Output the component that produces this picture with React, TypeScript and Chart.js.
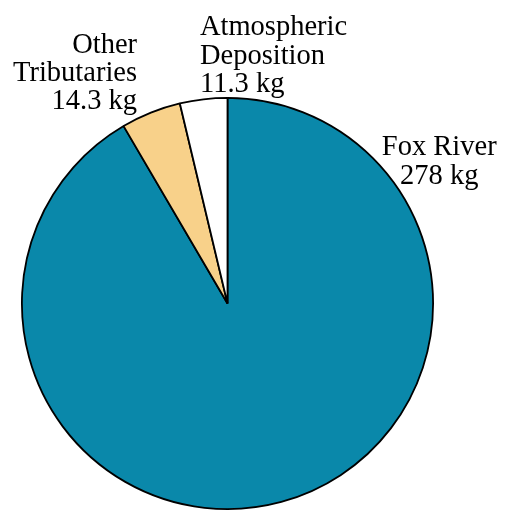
import React, { useEffect, useRef } from "react";
import { Chart, registerables } from "chart.js";

Chart.register(...registerables);

const categories = ["Fox River", "Other Tributaries", "Atmospheric Deposition"];
const values = [278, 14.3, 11.3];
const labelLines = [
  ["Fox River", "278 kg"],
  ["Other", "Tributaries", "14.3 kg"],
  ["Atmospheric", "Deposition", "11.3 kg"],
];
const colors = ["#0A88AA", "#F8D18A", "#FFFFFF"];
// label anchor relative to pie center, in units of radius; alignment
const labelAnchors: { kx: number; ky: number; align: CanvasTextAlign }[] = [
  { kx: 1.03, ky: -0.72, align: "center" },
  { kx: -0.44, ky: -1.219, align: "right" },
  { kx: -0.134, ky: -1.304, align: "left" },
];

const labelPlugin = {
  id: "outerLabels",
  afterDraw(chart: any) {
    const meta = chart.getDatasetMeta(0);
    const ctx = chart.ctx;
    ctx.save();
    ctx.fillStyle = "#000";
    ctx.font = '28.5px "Liberation Serif", "Times New Roman", serif';
    ctx.textBaseline = "alphabetic";
    meta.data.forEach((arc: any, i: number) => {
      const { x, y, outerRadius } = arc.getProps(["x", "y", "outerRadius"], true);
      const a = labelAnchors[i];
      ctx.textAlign = a.align;
      const lx = x + a.kx * outerRadius;
      const ly = y + a.ky * outerRadius;
      labelLines[i].forEach((line, j) => {
        ctx.fillText(line, lx, ly + j * 28.3);
      });
    });
    ctx.restore();
  },
};

export default function App() {
  const ref = useRef<HTMLCanvasElement | null>(null);
  useEffect(() => {
    if (!ref.current) return;
    const chart = new Chart(ref.current, {
      type: "pie",
      data: {
        labels: categories,
        datasets: [
          {
            data: values,
            backgroundColor: colors,
            borderColor: "#000",
            borderWidth: 1.8,
          },
        ],
      },
      options: {
        responsive: false,
        animation: false,
        layout: { padding: { left: 21, right: 76, top: 97, bottom: 1 } },
        plugins: {
          legend: { display: false },
          tooltip: { enabled: false },
        },
      },
      plugins: [labelPlugin],
    });
    return () => chart.destroy();
  }, []);
  return (
    <div style={{ position: "fixed", left: 0, top: 0, width: 510, height: 511, background: "#fff" }}>
      <canvas ref={ref} width={510} height={511} style={{ width: 510, height: 511 }} />
    </div>
  );
}
